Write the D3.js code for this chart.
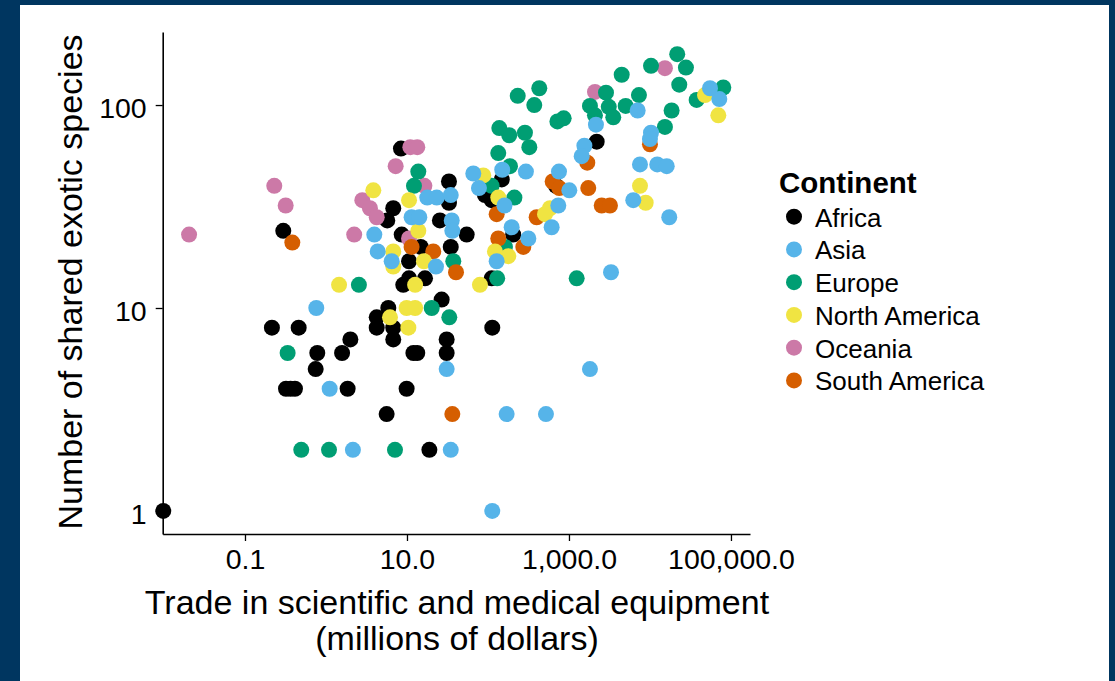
<!DOCTYPE html>
<html><head><meta charset="utf-8">
<script src="https://cdn.jsdelivr.net/npm/d3@7"></script>
<style>html,body{margin:0;padding:0;background:#003660;overflow:hidden}</style>
</head><body><svg id="chart" width="1115" height="681"></svg>
<script>
// ---- data (trade in millions of dollars, number of shared exotic species) ----
const continents = ["Africa","Asia","Europe","North America","Oceania","South America"];
const colors = ["#000000","#56B4E9","#009E73","#F0E442","#CC79A7","#D55E00"];

const africa = [[0.0098,1],[0.297,24],[0.215,8],[0.46,8],[2.0,7],[0.781,6],[1.58,6],[0.746,5],[0.321,4],[0.365,4],[0.414,4],[1.85,4],[5.61,3],[8.43,61],[33,42],[6.77,31],[33,33],[5.71,27],[25.5,27],[54.6,23],[8.61,23],[14.8,20],[34.7,20],[10.6,17],[10.6,14],[9.0,13],[16.7,14],[5.88,10],[4.23,9],[4.23,8],[6.77,8],[6.77,7],[26.8,11],[12.0,6],[13.4,6],[30.9,7],[30.9,6],[9.9,4],[18.9,2],[111,14],[113,8],[148,43],[91.8,36],[111,34],[205,23],[692,40],[2198,66]];
const asia = [[0.759,10],[1.11,4],[2.15,2],[34.7,2],[30.9,5],[3.95,23],[4.35,19],[6.47,17],[22.8,16],[17.8,35],[23.3,35],[34.7,36],[11.4,28],[14.2,28],[35.7,27],[36.3,24],[65.9,46],[77.4,39],[160,32],[294,47],[753,47],[1010,38],[738,32],[611,25],[196,25],[315,22],[128,17],[113,1],[520,3],[170,3],[1816,5],[3303,15],[2153,80],[1550,63],[1436,56],[7047,94],[55100,121],[71800,107],[10300,73],[10000,68],[7530,51],[12300,51],[16100,50],[6223,34],[17300,28],[150,48]];
const europe = [[0.336,6],[0.495,2],[1.09,2],[2.55,13],[7.11,2],[13.8,47],[12.2,40],[37.3,17],[20.2,10],[33.3,9],[130,14],[1245,14],[111,40],[212,35],[187,50],[162,20],[138,77],[183,71],[286,73],[324,62],[134,58],[233,111],[430,121],[373,100],[720,83],[860,86],[2864,115],[1816,99],[3100,98],[3524,87],[2094,89],[5012,99],[4478,141],[7311,112],[10300,156],[21700,178],[27800,153],[23000,126],[18500,94],[15300,78],[37700,106],[80400,122]];
const northAmerica = [[1.45,13],[3.84,38],[10.6,34],[13.8,24],[6.77,19],[6.77,16],[16.2,17],[12.6,13],[9.9,10],[12.6,10],[6.17,9],[10.4,8],[79.6,13],[87.5,45],[134,35],[122,19],[178,18],[582,31],[506,29],[7530,40],[8851,33],[47800,112],[69800,89]];
const oceania = [[0.0204,23],[0.23,40],[0.318,32],[2.23,23],[7.25,50],[11.0,62],[13.4,62],[16.4,40],[2.81,34],[3.49,31],[4.23,28],[10.6,22],[2094,116],[15300,152]];
const southAmerica = [[0.384,21],[11.4,20],[21.1,19],[40.3,15],[36.3,3],[128,29],[134,22],[273,20],[399,28],[629,42],[759,39],[1731,39],[1683,52],[2536,32],[3206,32],[10000,64]];

const xTicks = [0.1, 10, 1000, 100000];
const xTickLabels = ["0.1","10.0","1,000.0","100,000.0"];
const yTicks = [1, 10, 100];
const yTickLabels = ["1","10","100"];
const xDomain = [0.00964, 171800];
const yDomain = [0.77, 229];

const xTitle = ["Trade in scientific and medical equipment", "(millions of dollars)"];
const yTitle = "Number of shared exotic species";
const legendTitle = "Continent";

// ---- drawing ----
const FONT = "'Liberation Sans', Arial, Helvetica, sans-serif";
const svg = d3.select("#chart");
svg.append("rect").attr("width",1115).attr("height",681).attr("fill","#003660");
svg.append("rect").attr("x",20).attr("y",5).attr("width",1089).attr("height",676).attr("fill","#ffffff");

const x = d3.scaleLog().domain(xDomain).range([162.7, 750]);
const y = d3.scaleLog().domain(yDomain).range([534, 32]);

const groups = [africa, oceania, europe, southAmerica, northAmerica, asia];
const groupIdx = [0, 4, 2, 5, 3, 1];
const pts = [];
groups.forEach((g, k) => g.forEach(d => pts.push({x:d[0], y:d[1], c:groupIdx[k]})));

svg.append("g").selectAll("circle").data(pts).join("circle")
  .attr("cx", d => x(d.x)).attr("cy", d => y(d.y)).attr("r", 8)
  .attr("fill", d => colors[d.c]);

const xAxis = svg.append("g").attr("transform","translate(0,534)")
  .call(d3.axisBottom(x).tickValues(xTicks).tickFormat((d,i)=>xTickLabels[i]).tickSize(7).tickSizeOuter(0));
const yAxis = svg.append("g").attr("transform","translate(162.7,0)")
  .call(d3.axisLeft(y).tickValues(yTicks).tickFormat((d,i)=>yTickLabels[i]).tickSize(7).tickSizeOuter(0).tickPadding(9));

[xAxis, yAxis].forEach(a => {
  a.select(".domain").attr("stroke","#000").attr("stroke-width",1.6);
  a.selectAll(".tick line").attr("stroke","#000").attr("stroke-width",1.3);
  a.selectAll(".tick text").attr("fill","#000").style("font-family",FONT).style("font-size","28.5px");
});
xAxis.selectAll(".tick text").attr("y",34.5).attr("dy",0);
yAxis.selectAll(".tick text").attr("dy","0.43em");

svg.append("text").attr("x",457).attr("text-anchor","middle")
  .style("font-family",FONT).style("font-size","34px").attr("fill","#000")
  .selectAll("tspan").data(xTitle).join("tspan")
  .attr("x",457).attr("y",(d,i)=>613.5 + i*36.5).text(d=>d);

svg.append("text").attr("transform","translate(81.5,282) rotate(-90)")
  .attr("text-anchor","middle").style("font-family",FONT).style("font-size","34px")
  .attr("fill","#000").text(yTitle);

const lg = svg.append("g");
lg.append("text").attr("x",779).attr("y",192.5).style("font-family",FONT)
  .style("font-size","29.5px").style("font-weight","bold").attr("fill","#000").text(legendTitle);
continents.forEach((c,i) => {
  const cy = 216.7 + i*32.75;
  lg.append("circle").attr("cx",794).attr("cy",cy).attr("r",8).attr("fill",colors[i]);
  lg.append("text").attr("x",815).attr("y",cy+10).style("font-family",FONT)
    .style("font-size","26px").attr("fill","#000").text(c);
});
</script></body></html>
